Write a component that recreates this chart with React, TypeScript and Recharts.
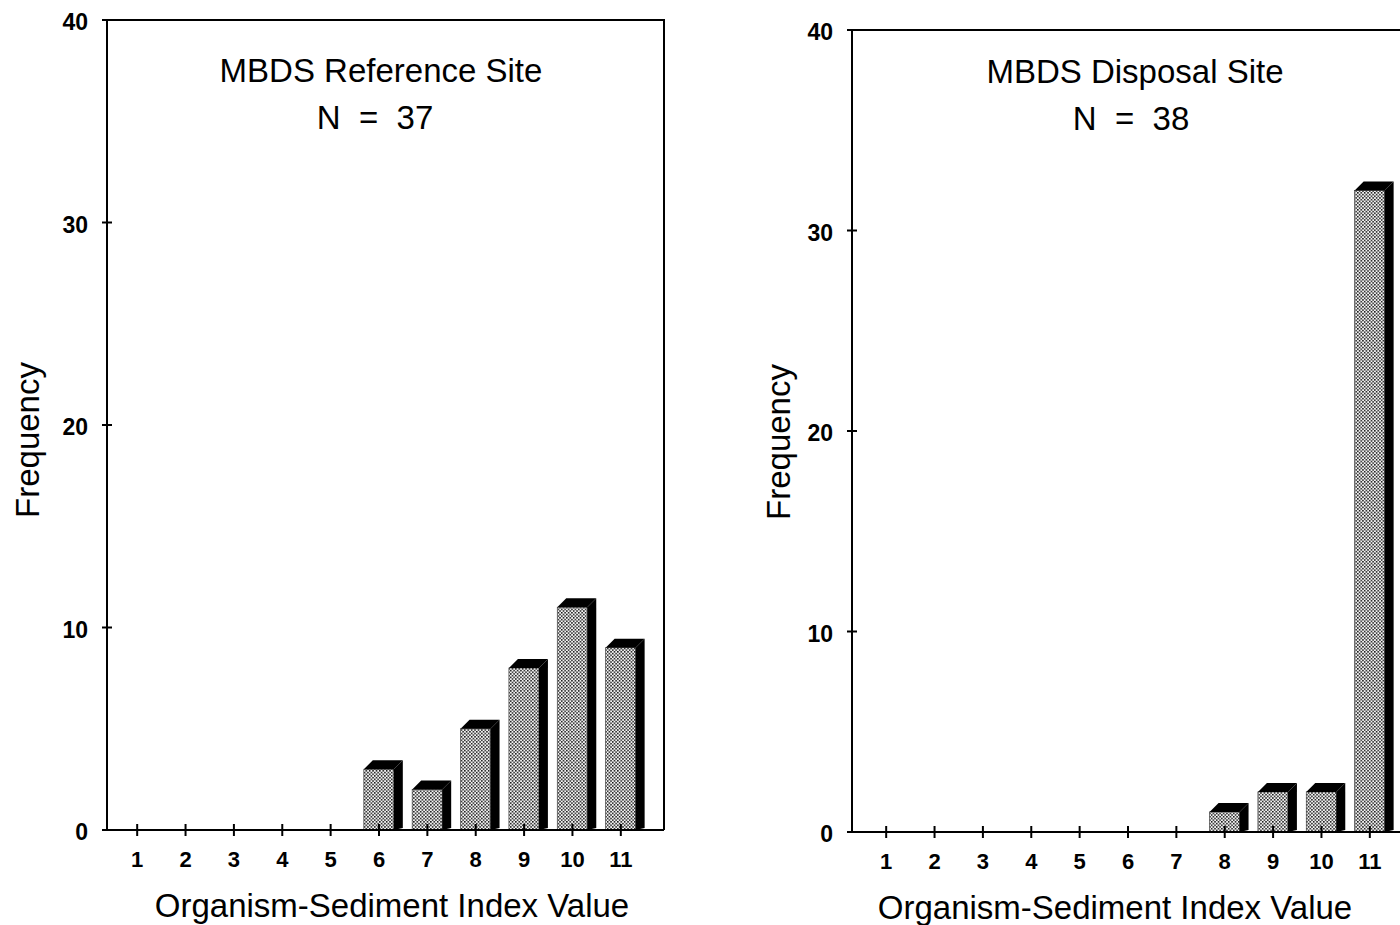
import { BarChart, Bar, XAxis, YAxis } from "recharts";

const FONT = '"Liberation Sans", Arial, Helvetica, sans-serif';

// index values on the x axis
const CATEGORIES = [1, 2, 3, 4, 5, 6, 7, 8, 9, 10, 11];
// frequencies
const REFERENCE_FREQ = [0, 0, 0, 0, 0, 3, 2, 5, 8, 11, 9];
const DISPOSAL_FREQ = [0, 0, 0, 0, 0, 0, 0, 1, 2, 2, 32];
const Y_TICKS = [0, 10, 20, 30, 40];

const X_LABEL = "Organism-Sediment Index Value";
const Y_LABEL = "Frequency";

const DEPTH = 9;

function Bar3D(props: any) {
  const { x, y, width: w, height: h } = props;
  if (!h || h <= 0) return <g />;
  const d = DEPTH;
  return (
    <g>
      <rect x={x} y={y} width={w} height={h} fill="url(#stipple)" stroke="#444" strokeWidth={0.7} />
      <polygon points={`${x},${y} ${x + d},${y - d} ${x + w + d},${y - d} ${x + w},${y}`} fill="#000" />
      <polygon
        points={`${x + w},${y} ${x + w + d},${y - d} ${x + w + d},${y + h - 2} ${x + w},${y + h}`}
        fill="#000"
      />
    </g>
  );
}

function YTick({ x, y, payload }: any) {
  return (
    <g>
      <line x1={x - 5} x2={x + 5} y1={y} y2={y} stroke="#000" strokeWidth={2} />
      <text
        x={x - 19}
        y={y + 2}
        textAnchor="end"
        dominantBaseline="central"
        fontSize={23}
        fontWeight="bold"
        fontFamily={FONT}
        fill="#000"
      >
        {payload.value}
      </text>
    </g>
  );
}

function XTick({ x, y, payload }: any) {
  return (
    <g>
      <line x1={x} x2={x} y1={y - 6} y2={y + 6} stroke="#000" strokeWidth={2} />
      <text
        x={x}
        y={y + 29}
        textAnchor="middle"
        dominantBaseline="central"
        fontSize={22}
        fontWeight="bold"
        fontFamily={FONT}
        fill="#000"
      >
        {payload.value}
      </text>
    </g>
  );
}

function PageText({ x, y, size, rotate, children }: any) {
  return (
    <div
      style={{
        position: "absolute",
        left: x,
        top: y,
        transform: `translate(-50%, -50%)${rotate ? " rotate(-90deg)" : ""}`,
        fontSize: size,
        fontFamily: FONT,
        lineHeight: 1,
        whiteSpace: "pre",
        color: "#000",
      }}
    >
      {children}
    </div>
  );
}

// top and right edges of the plot box
function Frame({ left, top, width, height }: any) {
  return (
    <div
      style={{
        position: "absolute",
        left,
        top: top - 1,
        width,
        height,
        borderTop: "2px solid #000",
        borderRight: "2px solid #000",
        boxSizing: "border-box",
        pointerEvents: "none",
      }}
    />
  );
}

function SiteChart({
  values,
  left,
  margin,
  padding,
}: {
  values: number[];
  left: number;
  margin: { top: number; right: number; bottom: number; left: number };
  padding: { left: number; right: number };
}) {
  const data = CATEGORIES.map((c, i) => ({ index: c, freq: values[i] }));
  return (
    <div style={{ position: "absolute", left, top: 0 }}>
      <BarChart width={700} height={925} data={data} margin={margin} barSize={30}>
        <XAxis
          dataKey="index"
          interval={0}
          padding={padding}
          height={60}
          tickSize={0}
          tickMargin={0}
          tickLine={false}
          axisLine={{ stroke: "#000", strokeWidth: 2 }}
          tick={<XTick />}
        />
        <YAxis
          domain={[0, 40]}
          ticks={Y_TICKS}
          interval={0}
          width={60}
          tickSize={0}
          tickMargin={0}
          tickLine={false}
          axisLine={{ stroke: "#000", strokeWidth: 2 }}
          tick={<YTick />}
        />
        <Bar dataKey="freq" shape={Bar3D} isAnimationActive={false} />
      </BarChart>
    </div>
  );
}

export default function App() {
  return (
    <div
      style={{
        position: "fixed",
        left: 0,
        top: 0,
        width: 1400,
        height: 925,
        overflow: "hidden",
        background: "#fff",
      }}
    >
      <svg width={0} height={0} style={{ position: "absolute" }}>
        <defs>
          <pattern id="stipple" patternUnits="userSpaceOnUse" width={3.4} height={3.4}>
            <rect x={0} y={0} width={3.4} height={3.4} fill="#f4f4f4" />
            <rect x={0} y={0} width={1.5} height={1.5} fill="#111" />
            <rect x={1.7} y={1.7} width={1.5} height={1.5} fill="#111" />
          </pattern>
        </defs>
      </svg>

      <SiteChart
        values={REFERENCE_FREQ}
        left={0}
        margin={{ top: 20, right: 36, bottom: 35, left: 47 }}
        padding={{ left: 6, right: 19 }}
      />
      <SiteChart
        values={DISPOSAL_FREQ}
        left={740}
        margin={{ top: 30, right: 27, bottom: 33, left: 52 }}
        padding={{ left: 10, right: 19 }}
      />

      <Frame left={107} top={20} width={558} height={811} />
      <Frame left={852} top={30} width={561} height={803} />

      <PageText x={381} y={70} size={33}>MBDS Reference Site</PageText>
      <PageText x={375} y={117} size={33}>{"N  =  37"}</PageText>
      <PageText x={1135} y={71} size={33}>MBDS Disposal Site</PageText>
      <PageText x={1131} y={118} size={33}>{"N  =  38"}</PageText>

      <PageText x={27} y={440} size={33} rotate>{Y_LABEL}</PageText>
      <PageText x={778} y={442} size={33} rotate>{Y_LABEL}</PageText>

      <PageText x={392} y={905} size={33}>{X_LABEL}</PageText>
      <PageText x={1115} y={907} size={33}>{X_LABEL}</PageText>
    </div>
  );
}
